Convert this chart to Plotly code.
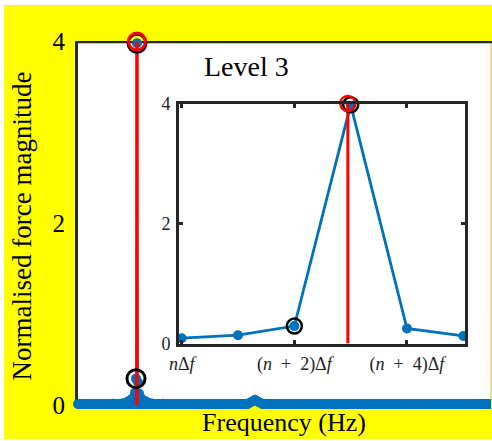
import plotly.graph_objects as go

# ---------------- data (frequency bin index, magnitude) ----------------
# broadband floor of the spectrum (main axes)
floor_freq = [1, 12, 24, 36, 46, 74, 86, 100, 120, 140, 160, 170, 178, 186, 200,
              220, 250, 280, 310, 340, 370, 400, 420]
floor_mag = [0.01, 0.01, 0.01, 0.015, 0.02, 0.02, 0.015, 0.01, 0.01, 0.01, 0.01,
             0.01, 0.055, 0.01, 0.01, 0.01, 0.01, 0.01, 0.01, 0.01, 0.01, 0.01, 0.01]

# neighbourhood of the peak (bins n-7 ... n+13, with n = 57)
peak_freq = [50, 51, 52, 53, 54, 55, 56, 57, 58, 59, 60, 61, 62, 63, 64, 65, 66,
             67, 68, 69, 70]
peak_mag = [0.03, 0.035, 0.04, 0.05, 0.055, 0.065, 0.075, 0.088, 0.138, 0.29, 3.98,
            0.25, 0.126, 0.09, 0.07, 0.06, 0.05, 0.045, 0.04, 0.035, 0.03]

# exact excitation frequency (red line) and its amplitude
true_freq = [59.95, 59.95]
true_mag = [0.0, 4.0]
true_peak_freq = [59.95]
true_peak_mag = [4.0]

# detected bins (black circles)
detect_freq = [59, 60]
detect_mag = [0.29, 3.98]

# inset ticks
inset_tickvals = [57, 59, 61]
inset_ticktext = ["<i>n</i>Δ<i>f</i>",
                  "(<i>n</i>\u2002+\u20022)Δ<i>f</i>",
                  "(<i>n</i>\u2002+\u20024)Δ<i>f</i>"]
main_tickvals = [0, 2, 4]
inset_ytickvals = [0, 2, 4]

# ---------------- styles / layout geometry ----------------
BLUE = "#0072BD"
RED = "#FF0000"
DARK = "#262626"
YELLOW = "#FFFF00"
FONT = "Liberation Serif"

W, H = 492, 441
L, R, T, B = 77, 1, 41, 30
plot_w = W - L - R
plot_h = H - T - B
px_zero, px_four = 405.0, 41.5
scale = (px_zero - px_four) / 4.0
y_min = -((H - B) - px_zero) / scale
y_max = 4.0 + (px_four - T) / scale


def px_to_paper_x(px):
    return (px - L) / plot_w


def px_to_paper_y(py):
    return ((H - B) - py) / plot_h


fig = go.Figure()

# main axes traces
fig.add_trace(go.Scatter(x=floor_freq, y=floor_mag, mode="lines+markers",
                         line=dict(color=BLUE, width=10),
                         marker=dict(color=BLUE, size=10),
                         cliponaxis=False, showlegend=False))
fig.add_trace(go.Scatter(x=peak_freq, y=peak_mag, mode="lines+markers",
                         line=dict(color=BLUE, width=1.5),
                         marker=dict(color=BLUE, size=10),
                         cliponaxis=False, showlegend=False))
fig.add_trace(go.Scatter(x=true_freq, y=true_mag, mode="lines",
                         line=dict(color=RED, width=3.5),
                         cliponaxis=False, showlegend=False))
fig.add_trace(go.Scatter(x=detect_freq, y=detect_mag, mode="markers",
                         marker=dict(symbol="circle-open", color="black", size=18,
                                     line=dict(width=3, color="black")),
                         cliponaxis=False, showlegend=False))
fig.add_trace(go.Scatter(x=true_peak_freq, y=true_peak_mag, mode="markers",
                         marker=dict(symbol="circle-open", color=RED, size=17,
                                     line=dict(width=3, color=RED)),
                         cliponaxis=False, showlegend=False))

# inset traces
fig.add_trace(go.Scatter(x=peak_freq, y=peak_mag, mode="lines+markers",
                         xaxis="x2", yaxis="y2",
                         line=dict(color=BLUE, width=2.8),
                         marker=dict(color=BLUE, size=10),
                         showlegend=False))
fig.add_trace(go.Scatter(x=true_freq, y=true_mag, mode="lines",
                         xaxis="x2", yaxis="y2",
                         line=dict(color=RED, width=3),
                         showlegend=False))
fig.add_trace(go.Scatter(x=detect_freq, y=detect_mag, mode="markers",
                         xaxis="x2", yaxis="y2",
                         marker=dict(symbol="circle-open", color="black", size=15,
                                     line=dict(width=2.5, color="black")),
                         cliponaxis=False, showlegend=False))
fig.add_trace(go.Scatter(x=true_peak_freq, y=true_peak_mag, mode="markers",
                         xaxis="x2", yaxis="y2",
                         marker=dict(symbol="circle-open", color=RED, size=15,
                                     line=dict(width=2.5, color=RED)),
                         cliponaxis=False, showlegend=False))

shapes = [
    # yellow figure background (with thin white border)
    dict(type="rect", xref="paper", yref="paper", layer="below",
         x0=px_to_paper_x(4), x1=px_to_paper_x(493),
         y0=px_to_paper_y(439), y1=px_to_paper_y(5),
         fillcolor=YELLOW, line=dict(width=0)),
    # white axes area
    dict(type="rect", xref="paper", yref="y", layer="below",
         x0=0, x1=px_to_paper_x(490.5), y0=0, y1=4,
         fillcolor="white", line=dict(width=0)),
    # right light edge
    dict(type="line", xref="paper", yref="y", layer="below",
         x0=px_to_paper_x(491), x1=px_to_paper_x(491), y0=0, y1=4,
         line=dict(color="#c8c8c8", width=1)),
    # top spine
    dict(type="line", xref="paper", yref="y", layer="below",
         x0=px_to_paper_x(75.5), x1=px_to_paper_x(493), y0=4, y1=4,
         line=dict(color=DARK, width=3.5)),
    # left spine
    dict(type="line", xref="paper", yref="y", layer="below",
         x0=px_to_paper_x(76.5), x1=px_to_paper_x(76.5), y0=0, y1=4,
         line=dict(color=DARK, width=3)),
]

fig.update_layout(
    width=W, height=H,
    margin=dict(l=L, r=R, t=T, b=B, autoexpand=False),
    paper_bgcolor="white", plot_bgcolor="white",
    font=dict(family=FONT, color="black"),
    showlegend=False,
    shapes=shapes,
    xaxis=dict(domain=[0, 1], range=[0, 414], showgrid=False, zeroline=False,
               showline=False, showticklabels=False, ticks="",
               title=dict(text="Frequency (Hz)", font=dict(size=26, family=FONT),
                          standoff=1),
               automargin=False),
    yaxis=dict(domain=[0, 1], range=[y_min, y_max], showgrid=False, zeroline=False,
               showline=False, ticks="", tickvals=main_tickvals,
               tickfont=dict(size=25, family=FONT), ticklabelstandoff=11,
               title=dict(text="Normalised force magnitude",
                          font=dict(size=27, family=FONT), standoff=13),
               automargin=False),
    xaxis2=dict(domain=[px_to_paper_x(179), px_to_paper_x(465)],
                range=[56.952, 62.03], anchor="y2",
                showgrid=False, zeroline=False, showline=True, linewidth=3,
                linecolor=DARK, mirror="ticks", ticks="inside", ticklen=4,
                tickwidth=2.5, tickcolor=DARK,
                tickvals=inset_tickvals, ticktext=inset_ticktext,
                tickfont=dict(size=18, family=FONT, color="#222222"),
                ticklabelstandoff=2),
    yaxis2=dict(domain=[px_to_paper_y(343.5), px_to_paper_y(103.5)],
                range=[0, 4], anchor="x2",
                showgrid=False, zeroline=False, showline=True, linewidth=3,
                linecolor=DARK, mirror="ticks", ticks="inside", ticklen=4,
                tickwidth=2.5, tickcolor=DARK, tickvals=inset_ytickvals,
                tickfont=dict(size=18, family=FONT, color="#222222"),
                ticklabelstandoff=2),
    annotations=[dict(text="Level 3", xref="paper", yref="paper",
                      x=px_to_paper_x(246), y=px_to_paper_y(67),
                      xanchor="center", yanchor="middle", showarrow=False,
                      font=dict(size=28, family=FONT, color="black"))],
)

fig.write_html("out.html")
